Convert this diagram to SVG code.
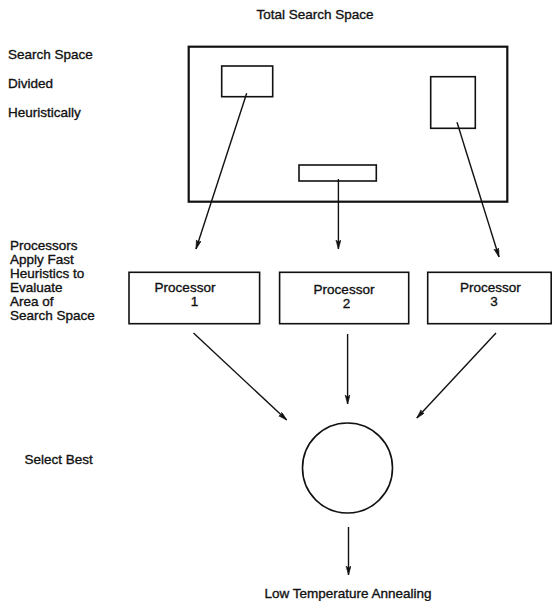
<svg xmlns="http://www.w3.org/2000/svg" width="552" height="601" viewBox="0 0 552 601">
<style>
text{font-family:"Liberation Sans",Arial,Helvetica,sans-serif;font-size:13.5px;fill:#111;stroke:#111;stroke-width:0.35;}
.c{text-anchor:middle;}
.box{fill:#fff;stroke:#111;stroke-width:1.6;}
.big{fill:#fff;stroke:#111;stroke-width:2.2;}
.edge{stroke:#111;stroke-width:1.4;fill:none;marker-end:url(#ah);}
</style>
<defs>
<marker id="ah" markerUnits="userSpaceOnUse" markerWidth="10" markerHeight="6" refX="9" refY="2.5" orient="auto">
<path d="M0,0 L9,2.5 L0,5 L2,2.5 z" fill="#111" stroke="#111" stroke-width="0.6"/>
</marker>
</defs>
<rect width="552" height="601" fill="#fff"/>

<g id="labels">
<text x="315" y="19" class="c">Total Search Space</text>
<text x="8" y="58.5">Search Space</text>
<text x="8" y="87.5">Divided</text>
<text x="8" y="116.5">Heuristically</text>
<text x="10" y="249.5">Processors</text>
<text x="10" y="263.5">Apply Fast</text>
<text x="10" y="277.5">Heuristics to</text>
<text x="10" y="291.5">Evaluate</text>
<text x="10" y="305.5">Area of</text>
<text x="10" y="319.5">Search Space</text>
<text x="24.5" y="463.5">Select Best</text>
<text x="348" y="598" class="c">Low Temperature Annealing</text>
</g>

<g id="search-space">
<rect class="big" x="188.7" y="46.7" width="318.6" height="155"/>
</g>
<g id="region1"><rect class="box" x="221.7" y="66" width="51" height="30.7"/></g>
<g id="region2"><rect class="box" x="299" y="165" width="77.3" height="16"/></g>
<g id="region3"><rect class="box" x="430.7" y="76.7" width="44.6" height="51.6"/></g>

<g id="processor1">
<rect class="box" x="129" y="272.3" width="130.6" height="51.4"/>
<text x="185" y="292" class="c">Processor</text>
<text x="194.5" y="306" class="c">1</text>
</g>
<g id="processor2">
<rect class="box" x="279.6" y="272.3" width="129.1" height="51.4"/>
<text x="344" y="294" class="c">Processor</text>
<text x="346.5" y="308" class="c">2</text>
</g>
<g id="processor3">
<rect class="box" x="427.7" y="272.3" width="123.5" height="51.4"/>
<text x="490.3" y="292" class="c">Processor</text>
<text x="494" y="306" class="c">3</text>
</g>

<g id="select-best">
<circle class="box" cx="347.5" cy="468" r="45"/>
</g>

<g id="connectors">
<line class="edge" x1="246.7" y1="93.3" x2="196" y2="249"/>
<line class="edge" x1="338.4" y1="179" x2="338.4" y2="249"/>
<line class="edge" x1="457" y1="122.3" x2="499" y2="257"/>
<line class="edge" x1="193.5" y1="333" x2="286.7" y2="420"/>
<line class="edge" x1="347.6" y1="334" x2="347.6" y2="404"/>
<line class="edge" x1="496" y1="333" x2="416.8" y2="418"/>
<line class="edge" x1="348.5" y1="527" x2="348.5" y2="575"/>
</g>
</svg>
